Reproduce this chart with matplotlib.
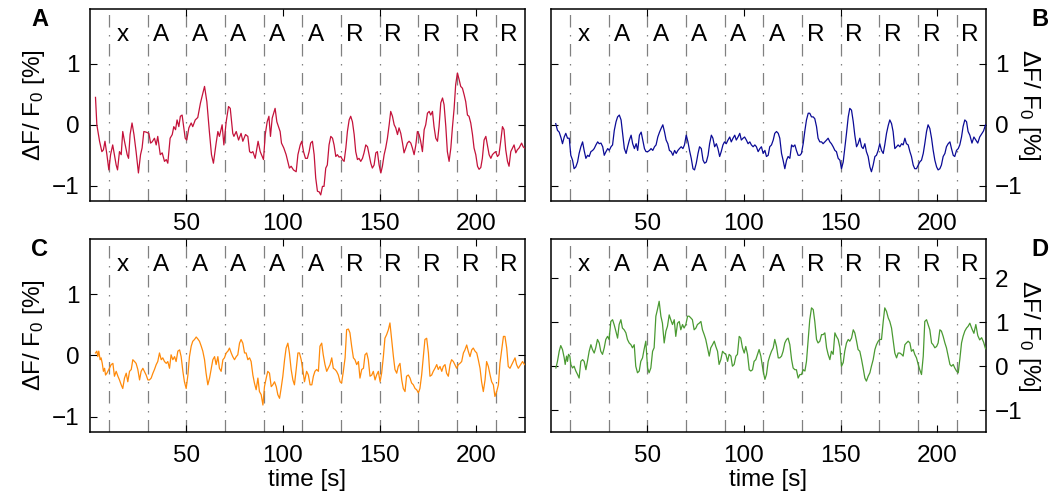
import matplotlib
matplotlib.use("Agg")
import matplotlib.pyplot as plt
import matplotlib.transforms as mtransforms

plt.rcParams['font.family'] = ['Liberation Sans', 'DejaVu Sans']
plt.rcParams['mathtext.default'] = 'regular'

# stimulus blocks (onset in s) and their labels
block_onsets = [10, 30, 50, 70, 90, 110, 130, 150, 170, 190, 210]
block_labels = ['x', 'A', 'A', 'A', 'A', 'A', 'R', 'R', 'R', 'R', 'R']
xticks = [50, 100, 150, 200]

# panel A trace
t_a = [3.1, 3.8, 5.2, 6.4, 7.2, 8.0, 9.0, 10.0, 10.9, 12.0, 12.9, 13.8, 14.5, 15.5, 16.4, 17.2,
       18.1, 19.5, 20.2, 21.0, 22.0, 23.0, 24.1, 25.3, 26.4, 27.2, 28.1, 29.3, 30.7, 31.6, 32.4,
       33.6, 34.5, 35.3, 36.6, 37.6, 38.8, 39.7, 40.5, 41.7, 42.8, 43.6, 44.5, 45.3, 46.2, 47.0,
       47.9, 49.5, 50.3, 51.4, 52.6, 53.4, 54.7, 56.0, 57.4, 59.5, 60.7, 62.0, 63.1, 64.1, 65.5,
       66.4, 67.2, 68.6, 69.5, 70.7, 71.9, 72.8, 74.1, 74.7, 75.9, 77.1, 78.4, 79.3, 80.7, 81.9,
       82.8, 83.6, 84.5, 85.7, 87.2, 88.3, 90.0, 90.9, 91.9, 92.8, 93.6, 94.5, 96.0, 96.9, 98.6,
       99.3, 100.5, 101.7, 103.4, 104.3, 105.5, 106.9, 107.8, 109.0, 109.8, 110.7, 111.7, 112.7,
       113.6, 114.4, 115.3, 116.2, 117.0, 117.9, 118.8, 119.6, 120.5, 121.3, 122.2, 123.0, 123.9,
       124.8, 125.7, 126.5, 127.4, 128.2, 129.1, 130.0, 130.8, 131.7, 132.6, 133.4, 134.3, 135.1,
       136.0, 136.9, 137.7, 138.6, 139.4, 140.3, 141.2, 142.0, 142.9, 143.8, 144.6, 145.5, 146.3,
       147.2, 148.1, 148.9, 149.8, 150.7, 151.5, 152.4, 153.2, 154.1, 155.0, 155.8, 156.7, 157.6,
       158.4, 159.3, 160.1, 161.0, 161.9, 162.7, 163.6, 164.4, 165.3, 166.2, 167.0, 167.9, 168.8,
       169.6, 170.5, 171.3, 172.2, 173.1, 173.9, 174.8, 175.7, 176.5, 177.4, 178.2, 179.1, 180.0,
       180.8, 181.7, 182.6, 183.4, 184.3, 185.1, 186.0, 186.9, 187.7, 188.6, 189.4, 190.3, 191.2,
       192.0, 192.9, 193.8, 194.6, 195.5, 196.3, 197.2, 198.1, 198.9, 199.8, 200.7, 201.5, 202.4,
       203.2, 204.1, 205.0, 205.8, 206.7, 207.6, 208.4, 209.3, 210.1, 211.0, 211.8, 212.7, 213.6,
       214.4, 215.3, 216.2, 217.0, 217.9, 218.8, 219.6, 220.5, 221.3, 222.2, 223.5, 224.3, 225.0]
dff_a = [0.45, 0.0, -0.27, -0.44, -0.41, -0.27, -0.49, -0.74, -0.49, -0.33, -0.49, -0.66, -0.74,
         -0.44, -0.49, -0.11, -0.27, -0.49, -0.55, -0.16, 0.03, -0.16, -0.44, -0.79, -0.49, -0.38,
         -0.11, -0.12, -0.14, -0.30, -0.28, -0.22, -0.33, -0.19, -0.49, -0.46, -0.60, -0.57, -0.63,
         -0.22, -0.16, -0.03, -0.08, 0.08, -0.03, 0.14, 0.16, -0.22, -0.25, -0.05, 0.03, -0.03, 0.08,
         0.12, 0.36, 0.63, 0.38, -0.11, -0.49, -0.63, -0.30, -0.11, -0.19, 0.0, -0.33, 0.05, 0.30,
         0.27, -0.14, -0.19, -0.11, -0.25, -0.14, -0.27, -0.16, -0.19, -0.44, -0.46, -0.44, -0.55,
         -0.27, -0.44, -0.57, -0.16, 0.05, 0.14, -0.19, 0.11, 0.27, 0.05, -0.11, -0.30, -0.38, -0.49,
         -0.71, -0.68, -0.74, -0.77, -0.49, -0.33, -0.27, -0.44, -0.55, -0.55, -0.44, -0.30, -0.27,
         -0.49, -0.87, -1.09, -1.10, -1.15, -1.01, -1.01, -0.71, -0.66, -0.33, -0.19, -0.22, -0.33,
         -0.52, -0.49, -0.53, -0.52, -0.57, -0.60, -0.38, -0.11, 0.08, 0.14, 0.05, -0.16, -0.44,
         -0.57, -0.55, -0.60, -0.55, -0.46, -0.33, -0.36, -0.49, -0.63, -0.71, -0.66, -0.46, -0.44,
         -0.66, -0.79, -0.68, -0.49, -0.38, -0.22, 0.0, 0.22, 0.14, 0.0, -0.05, -0.16, -0.05, -0.14,
         -0.30, -0.46, -0.38, -0.30, -0.27, -0.30, -0.38, -0.49, -0.33, -0.11, -0.16, -0.27, -0.44,
         -0.08, 0.0, 0.19, 0.22, 0.16, 0.22, -0.03, -0.22, -0.27, -0.03, 0.36, 0.44, 0.33, -0.03,
         -0.44, -0.60, -0.38, -0.05, 0.27, 0.66, 0.85, 0.74, 0.63, 0.60, 0.49, 0.38, 0.16, 0.14, 0.03,
         -0.16, -0.38, -0.49, -0.68, -0.73, -0.70, -0.55, -0.25, -0.19, -0.33, -0.49, -0.55, -0.49,
         -0.46, -0.44, -0.52, -0.49, -0.27, -0.03, -0.08, -0.41, -0.60, -0.68, -0.44, -0.38, -0.33,
         -0.46, -0.41, -0.38, -0.30, -0.36, -0.38]

# panel B trace
t_b = [2.7, 3.6, 4.5, 5.5, 6.2, 7.1, 7.9, 8.8, 9.7, 10.5, 11.4, 12.2, 13.1, 14.0, 14.8, 15.7, 16.6,
       17.4, 18.3, 19.2, 20.0, 20.9, 21.8, 22.6, 23.5, 24.4, 25.2, 26.1, 27.0, 27.8, 28.7, 29.6,
       30.4, 31.3, 32.1, 33.0, 33.9, 34.7, 35.6, 36.5, 37.3, 38.2, 39.1, 39.9, 40.8, 41.7, 42.5,
       43.4, 44.3, 45.1, 46.0, 46.9, 47.7, 48.6, 49.4, 50.3, 51.2, 52.0, 52.9, 53.8, 54.6, 55.5,
       56.4, 57.2, 58.1, 59.0, 59.8, 60.7, 61.5, 62.4, 63.3, 64.2, 65.0, 65.9, 66.7, 67.6, 68.5,
       69.3, 70.2, 71.1, 71.9, 72.8, 73.7, 74.5, 75.4, 76.3, 77.1, 78.0, 78.9, 79.7, 80.6, 81.5,
       82.3, 83.2, 84.0, 84.9, 85.8, 86.6, 87.5, 88.3, 89.2, 90.0, 90.9, 91.8, 92.7, 93.5, 94.4,
       95.3, 96.1, 97.0, 97.9, 98.7, 99.6, 100.4, 101.3, 102.2, 103.1, 103.9, 104.8, 105.7, 106.5,
       107.4, 108.3, 109.1, 110.0, 110.9, 111.7, 112.6, 113.4, 114.3, 115.2, 116.0, 116.9, 117.8,
       118.6, 119.5, 120.3, 121.2, 122.1, 122.9, 123.8, 124.7, 125.5, 126.4, 127.2, 128.1, 129.0,
       129.8, 130.7, 131.6, 132.4, 133.3, 134.1, 135.0, 135.9, 136.7, 137.6, 138.4, 139.3, 140.2,
       141.0, 141.9, 142.8, 143.6, 144.5, 145.3, 146.2, 147.1, 147.9, 148.8, 149.7, 150.5, 151.4,
       152.2, 153.1, 154.0, 154.8, 155.7, 156.6, 157.4, 158.3, 159.1, 160.0, 160.9, 161.7, 162.6,
       163.4, 164.3, 165.2, 166.0, 166.9, 167.8, 168.6, 169.5, 170.3, 171.2, 172.1, 172.9, 173.8,
       174.7, 175.5, 176.4, 177.2, 178.1, 179.0, 179.8, 180.7, 181.6, 182.4, 183.3, 184.1, 185.0,
       185.9, 186.7, 187.6, 188.4, 189.3, 190.2, 191.0, 191.9, 192.8, 193.6, 194.5, 195.3, 196.2,
       197.1, 197.9, 198.8, 199.7, 200.5, 201.4, 202.2, 203.1, 204.0, 204.8, 205.7, 206.6, 207.4,
       208.3, 209.1, 210.0, 210.9, 211.7, 212.6, 213.4, 214.3, 215.2, 216.0, 216.9, 218.0, 219.0,
       220.0, 221.0, 222.0, 223.0, 224.0, 225.0]
dff_b = [0.02, -0.09, -0.12, -0.22, -0.31, -0.20, -0.14, -0.22, -0.22, -0.50, -0.58, -0.72, -0.69,
         -0.61, -0.47, -0.36, -0.28, -0.42, -0.55, -0.50, -0.52, -0.44, -0.42, -0.39, -0.33, -0.28,
         -0.31, -0.30, -0.36, -0.50, -0.44, -0.39, -0.42, -0.36, -0.33, -0.09, 0.05, 0.13, 0.16,
         0.08, -0.14, -0.39, -0.47, -0.36, -0.25, -0.17, -0.31, -0.39, -0.31, -0.42, -0.17, -0.12,
         -0.25, -0.39, -0.44, -0.44, -0.42, -0.39, -0.42, -0.36, -0.33, -0.20, -0.12, -0.06, 0.0,
         -0.12, -0.25, -0.31, -0.42, -0.44, -0.50, -0.42, -0.47, -0.42, -0.39, -0.36, -0.39, -0.33,
         -0.17, -0.28, -0.42, -0.55, -0.72, -0.74, -0.63, -0.47, -0.36, -0.39, -0.58, -0.63, -0.61,
         -0.50, -0.31, -0.17, -0.22, -0.36, -0.31, -0.39, -0.52, -0.44, -0.33, -0.28, -0.31, -0.25,
         -0.20, -0.28, -0.22, -0.17, -0.25, -0.20, -0.14, -0.25, -0.22, -0.20, -0.25, -0.31, -0.28,
         -0.33, -0.36, -0.33, -0.36, -0.44, -0.39, -0.36, -0.47, -0.42, -0.52, -0.50, -0.36, -0.33,
         -0.25, -0.14, -0.11, -0.14, -0.22, -0.47, -0.58, -0.72, -0.58, -0.52, -0.55, -0.33, -0.36,
         -0.33, -0.42, -0.50, -0.50, -0.47, -0.31, -0.09, 0.08, 0.19, 0.19, 0.13, 0.13, 0.10, -0.03,
         -0.22, -0.28, -0.28, -0.31, -0.28, -0.25, -0.22, -0.28, -0.31, -0.36, -0.42, -0.44, -0.55,
         -0.58, -0.72, -0.61, -0.39, -0.14, 0.13, 0.27, 0.24, 0.05, -0.17, -0.36, -0.31, -0.22,
         -0.36, -0.39, -0.31, -0.44, -0.52, -0.69, -0.77, -0.66, -0.52, -0.50, -0.42, -0.31, -0.42,
         -0.47, -0.33, -0.14, -0.01, 0.08, 0.02, -0.11, -0.39, -0.36, -0.33, -0.36, -0.31, -0.33,
         -0.22, -0.31, -0.33, -0.44, -0.52, -0.66, -0.72, -0.72, -0.66, -0.61, -0.58, -0.47, -0.31,
         -0.11, 0.0, -0.06, -0.22, -0.41, -0.58, -0.69, -0.74, -0.72, -0.66, -0.52, -0.47, -0.36,
         -0.31, -0.28, -0.39, -0.50, -0.52, -0.42, -0.39, -0.33, -0.20, -0.03, 0.08, 0.05, -0.11,
         -0.17, -0.30, -0.20, -0.25, -0.30, -0.20, -0.15, -0.10, 0.0]

# panel C trace
t_c = [3.1, 3.8, 4.3, 4.8, 5.5, 6.0, 6.6, 7.2, 7.8, 8.3, 9.0, 9.5, 10.3, 11.2, 12.1, 12.9, 13.8,
       14.7, 15.5, 16.4, 17.2, 18.1, 19.0, 19.8, 20.7, 21.6, 22.4, 23.3, 24.1, 25.0, 25.9, 26.7,
       27.6, 28.4, 29.3, 30.2, 31.0, 31.9, 32.8, 33.6, 34.5, 35.3, 36.2, 37.1, 37.9, 38.8, 39.7,
       40.5, 41.4, 42.2, 43.1, 44.0, 44.8, 45.7, 46.6, 47.4, 48.3, 49.1, 50.0, 50.9, 51.7, 52.6,
       53.4, 54.3, 55.2, 56.0, 56.9, 57.8, 58.6, 59.5, 60.3, 61.2, 62.1, 62.9, 63.8, 64.7, 65.5,
       66.4, 67.2, 68.1, 69.0, 69.8, 70.7, 71.6, 72.4, 73.3, 74.1, 75.0, 75.9, 76.7, 77.6, 78.4,
       79.3, 80.2, 81.0, 81.9, 82.8, 83.6, 84.5, 85.3, 86.2, 87.1, 87.9, 88.8, 89.7, 90.5, 91.4,
       92.2, 93.1, 94.0, 94.8, 95.7, 96.6, 97.4, 98.3, 99.1, 100.0, 100.9, 101.7, 102.6, 103.4,
       104.3, 105.2, 106.0, 106.9, 107.8, 108.6, 109.5, 110.3, 111.2, 112.3, 113.2, 114.1, 115.0,
       115.8, 116.6, 117.5, 118.4, 119.2, 120.1, 120.9, 121.8, 122.7, 123.5, 124.4, 125.3, 126.1,
       127.0, 127.8, 128.7, 129.6, 130.4, 131.3, 132.2, 133.0, 133.9, 134.7, 135.6, 136.5, 137.3,
       138.2, 139.1, 139.9, 140.8, 141.7, 142.5, 143.4, 144.2, 145.1, 146.0, 146.8, 147.7, 148.5,
       149.4, 150.3, 151.1, 152.0, 152.8, 153.7, 154.6, 155.4, 156.3, 157.2, 158.0, 158.9, 159.7,
       160.6, 161.5, 162.3, 163.2, 164.0, 164.9, 165.8, 166.6, 167.5, 168.4, 169.2, 170.1, 170.9,
       171.8, 172.7, 173.5, 174.4, 175.3, 176.1, 177.0, 177.8, 178.7, 179.6, 180.4, 181.3, 182.2,
       183.0, 183.9, 184.7, 185.6, 186.5, 187.3, 188.2, 189.0, 189.9, 190.8, 191.6, 192.5, 193.4,
       194.2, 195.1, 195.9, 196.8, 197.7, 198.5, 199.4, 200.3, 201.1, 202.0, 202.8, 203.7, 204.6,
       205.4, 206.3, 207.2, 208.0, 208.9, 209.7, 210.6, 211.5, 212.3, 213.2, 214.1, 214.9, 215.8,
       216.6, 217.5, 218.4, 219.2, 220.1, 220.9, 221.8, 223.0, 224.0, 225.0]
dff_c = [0.04, 0.07, -0.02, 0.07, -0.07, -0.04, -0.13, -0.26, -0.21, -0.32, -0.29, -0.26, -0.21,
         -0.15, -0.13, -0.34, -0.26, -0.34, -0.40, -0.48, -0.54, -0.37, -0.29, -0.43, -0.26, -0.23,
         -0.07, -0.10, -0.13, -0.23, -0.40, -0.26, -0.21, -0.26, -0.32, -0.40, -0.40, -0.37, -0.29,
         -0.23, -0.15, -0.10, 0.04, -0.07, -0.04, -0.10, -0.13, -0.10, -0.21, 0.01, -0.07, -0.02,
         -0.10, 0.07, 0.09, -0.02, -0.26, -0.43, -0.54, -0.32, -0.02, 0.15, 0.23, 0.26, 0.30, 0.27,
         0.23, 0.15, 0.07, -0.07, -0.29, -0.48, -0.37, -0.23, -0.07, -0.02, -0.15, -0.02, -0.21,
         -0.26, -0.07, -0.04, 0.04, 0.07, 0.12, 0.04, -0.02, -0.07, -0.02, 0.01, 0.20, 0.26, 0.20,
         0.04, 0.04, -0.07, -0.04, -0.10, -0.32, -0.45, -0.56, -0.37, -0.59, -0.64, -0.81, -0.51,
         -0.37, -0.26, -0.29, -0.51, -0.48, -0.43, -0.51, -0.64, -0.70, -0.54, -0.34, -0.07, 0.12,
         0.20, 0.04, -0.23, -0.40, -0.48, -0.23, 0.04, 0.04, -0.07, -0.23, -0.43, -0.26, -0.32,
         -0.48, -0.48, -0.34, -0.26, -0.23, -0.26, 0.15, 0.20, 0.01, -0.15, -0.26, -0.21, -0.15,
         -0.04, -0.21, -0.23, -0.26, -0.32, -0.43, -0.45, -0.26, -0.04, 0.42, 0.43, 0.37, 0.15,
         -0.04, -0.07, -0.15, -0.10, -0.37, -0.23, -0.21, 0.01, 0.04, -0.07, -0.34, -0.32, -0.26,
         -0.40, -0.32, -0.26, -0.43, -0.29, -0.02, 0.28, 0.34, 0.42, 0.53, 0.26, -0.02, -0.23, -0.29,
         -0.18, -0.13, -0.40, -0.54, -0.59, -0.34, -0.32, -0.37, -0.45, -0.48, -0.54, -0.56, -0.61,
         -0.54, -0.32, -0.02, 0.26, 0.28, 0.04, -0.34, -0.32, -0.26, -0.21, -0.15, -0.23, -0.18,
         -0.26, -0.18, -0.15, -0.29, -0.34, -0.15, -0.07, -0.10, -0.15, -0.21, -0.15, -0.13, -0.10,
         0.04, 0.09, 0.17, 0.07, -0.02, 0.09, 0.12, 0.07, 0.04, -0.07, -0.21, -0.43, -0.59, -0.40,
         -0.10, -0.18, -0.32, -0.43, -0.48, -0.67, -0.59, -0.48, -0.13, 0.09, 0.31, 0.31, 0.12,
         -0.18, -0.21, -0.15, -0.10, -0.04, -0.15, -0.21, -0.15, -0.10, -0.15]

# panel D trace
t_d = [2.8, 3.6, 4.5, 5.3, 6.2, 7.1, 7.6, 8.3, 8.8, 9.3, 10.0, 10.5, 11.4, 12.2, 13.1, 14.0, 14.8,
       15.7, 16.6, 17.4, 18.3, 19.1, 20.0, 20.9, 21.7, 22.6, 23.4, 24.3, 25.2, 26.0, 26.9, 27.8,
       28.6, 29.5, 30.3, 31.2, 32.1, 32.9, 33.8, 34.7, 35.5, 36.4, 37.2, 38.1, 39.0, 39.8, 40.7,
       41.6, 42.4, 43.3, 44.1, 45.0, 45.9, 46.7, 47.6, 48.4, 49.3, 50.2, 51.0, 51.9, 52.8, 53.6,
       54.5, 55.3, 56.2, 57.1, 57.9, 58.8, 59.7, 60.5, 61.4, 62.2, 63.1, 64.0, 64.8, 65.7, 66.6,
       67.4, 68.3, 69.1, 70.0, 70.9, 71.7, 72.6, 73.4, 74.3, 75.2, 76.0, 76.9, 77.8, 78.6, 79.5,
       80.3, 81.2, 82.1, 82.9, 83.8, 84.7, 85.5, 86.4, 87.2, 88.1, 89.0, 89.8, 90.7, 91.6, 92.4,
       93.3, 94.1, 95.0, 95.9, 96.7, 97.6, 98.4, 99.3, 100.2, 101.0, 101.9, 102.8, 103.6, 104.5,
       105.3, 106.2, 107.1, 107.9, 108.8, 110.0, 110.9, 111.7, 112.6, 113.4, 114.3, 115.2, 116.0,
       116.9, 117.8, 118.6, 119.5, 120.3, 121.2, 122.1, 122.9, 123.8, 124.7, 125.5, 126.4, 127.2,
       128.1, 129.0, 129.8, 130.7, 131.6, 132.4, 133.3, 134.1, 135.0, 135.9, 136.7, 137.6, 138.4,
       139.3, 140.2, 141.0, 141.9, 142.8, 143.6, 144.5, 145.3, 146.2, 147.1, 147.9, 148.8, 149.7,
       150.5, 151.4, 152.2, 153.1, 154.0, 154.8, 155.7, 156.6, 157.4, 158.3, 159.1, 160.0, 160.9,
       161.7, 162.6, 163.4, 164.3, 165.2, 166.0, 166.9, 167.8, 168.6, 169.5, 170.3, 171.2, 172.1,
       172.9, 173.8, 174.7, 175.5, 176.4, 177.2, 178.1, 179.0, 179.8, 180.7, 181.6, 182.4, 183.3,
       184.1, 185.0, 185.9, 186.7, 187.6, 188.4, 189.3, 190.2, 191.0, 191.9, 192.8, 193.6, 194.5,
       195.3, 196.2, 197.1, 197.9, 198.8, 199.7, 200.5, 201.4, 202.2, 203.1, 204.0, 204.8, 205.7,
       206.6, 207.4, 208.3, 209.1, 210.0, 210.9, 211.7, 212.6, 213.4, 214.3, 215.2, 216.0, 216.9,
       218.0, 219.0, 220.0, 221.0, 222.0, 223.0, 224.0, 225.0]
dff_d = [-0.04, 0.11, 0.34, 0.47, 0.38, 0.19, 0.04, 0.23, 0.11, 0.27, 0.23, 0.04, -0.04, 0.0, -0.11,
         -0.19, -0.27, 0.11, 0.15, 0.11, -0.08, 0.11, 0.34, 0.49, 0.38, 0.30, 0.42, 0.61, 0.53, 0.34,
         0.27, 0.42, 0.61, 0.68, 0.61, 1.02, 1.06, 0.95, 0.80, 0.64, 0.95, 1.06, 0.87, 0.83, 0.76,
         0.61, 0.53, 0.49, 0.42, 0.49, 0.0, -0.15, -0.11, 0.11, 0.19, 0.38, 0.57, -0.04, -0.15, -0.04,
         0.34, 0.42, 1.14, 1.29, 1.48, 1.14, 0.98, 0.53, 0.80, 0.91, 1.17, 1.06, 0.95, 1.06, 0.68,
         0.98, 1.02, 0.83, 0.95, 0.87, 0.95, 1.14, 1.14, 1.10, 1.06, 0.83, 0.87, 0.95, 0.98, 1.02,
         0.83, 0.72, 0.61, 0.42, 0.23, 0.42, 0.49, 0.57, 0.45, 0.34, 0.04, 0.15, 0.34, 0.30, 0.27,
         0.11, 0.27, 0.23, 0.0, 0.04, 0.23, 0.27, 0.68, 0.64, 0.42, 0.30, 0.45, 0.27, -0.08, -0.11,
         -0.08, 0.11, 0.15, 0.27, 0.38, 0.23, -0.11, -0.30, -0.19, 0.11, 0.23, 0.34, 0.42, 0.61,
         0.45, 0.19, 0.19, 0.23, 0.34, 0.53, 0.61, 0.64, 0.49, 0.15, -0.04, -0.08, -0.08, -0.27,
         -0.19, -0.19, -0.08, -0.11, 0.11, 0.61, 1.06, 1.33, 1.29, 1.02, 0.61, 0.53, 0.57, 0.72,
         0.72, 0.76, 0.42, 0.27, 0.15, 0.34, 0.27, 0.76, 0.68, 0.61, 0.42, 0.0, 0.08, 0.34, 0.53,
         0.61, 0.57, 0.64, 0.83, 0.76, 0.57, 0.38, 0.34, 0.15, -0.04, -0.27, -0.34, -0.23, -0.15,
         0.0, 0.15, 0.38, 0.49, 0.57, 0.61, 0.61, 1.02, 1.33, 1.25, 1.10, 1.02, 0.87, 0.61, 0.30,
         0.19, 0.30, 0.30, 0.27, 0.23, 0.49, 0.53, 0.57, 0.53, 0.34, 0.38, 0.27, 0.19, 0.04, -0.08,
         -0.19, 0.23, 1.02, 1.06, 0.95, 0.83, 0.53, 0.49, 0.42, 0.45, 0.53, 0.83, 0.80, 0.68, 0.53,
         0.42, 0.23, 0.04, 0.0, 0.04, -0.04, -0.11, -0.15, 0.15, 0.53, 0.68, 0.80, 0.87, 0.91, 0.98,
         0.85, 0.75, 0.95, 0.70, 0.60, 0.65, 0.55, 0.40]

W, H = 1062, 497
fig = plt.figure(figsize=(W / 100, H / 100), dpi=100)

def px_axes(left, top, right, bottom):
    return fig.add_axes([left / W, 1 - bottom / H, (right - left) / W, (bottom - top) / H])

panels = [
    ('A', t_a, dff_a, '#c4123a', (89.5, 9, 524.5, 201), (-1.25, 1.9), [-1, 0, 1], 'left', False),
    ('B', t_b, dff_b, '#0b0b96', (550.5, 9, 985.5, 201), (-1.25, 1.9), [-1, 0, 1], 'right', False),
    ('C', t_c, dff_c, '#ff8a0a', (89.5, 239, 524.5, 432), (-1.25, 1.9), [-1, 0, 1], 'left', True),
    ('D', t_d, dff_d, '#4a9a32', (550.5, 239, 985.5, 432), (-1.5, 2.9), [-1, 0, 1, 2], 'right', True),
]

ylab = 'ΔF/ F$_0$ [%]'
fs = 17.5

for letter, t, dff, color, box, ylim, yticks, side, bottom_row in panels:
    ax = px_axes(*box)
    for x0 in block_onsets:
        ax.axvline(x0, color='0.5', lw=0.9, ls=(0, (10, 6, 1.2, 6)), zorder=1)
    ax.plot(t, dff, color=color, lw=0.9, zorder=3)
    ax.set_xlim(0, 225)
    ax.set_ylim(*ylim)
    ax.set_xticks(xticks)
    ax.set_yticks(yticks)
    ax.set_yticklabels(['\u2212%d' % -v if v < 0 else '%d' % v for v in yticks])
    ax.tick_params(direction='in', length=5, width=0.8, top=True, right=True, left=True,
                   labelsize=fs, pad=7)
    ax.tick_params(axis='x', pad=9)
    for sp in ax.spines.values():
        sp.set_linewidth(1.1)
    if side == 'right':
        ax.yaxis.tick_right()
        ax.tick_params(left=True, right=True, labelleft=False, labelright=True)
        ax.yaxis.set_label_position('right')
        ax.set_ylabel(ylab, fontsize=fs, rotation=270, labelpad=14)
        fig.text(1040 / W, 1 - (box[1] + 11) / H, letter, fontsize=17, fontweight='bold',
                 ha='center', va='center')
    else:
        ax.set_ylabel(ylab, fontsize=fs, labelpad=4)
        fig.text(40 / W, 1 - (box[1] + 11) / H, letter, fontsize=17, fontweight='bold',
                 ha='center', va='center')
    if bottom_row:
        ax.set_xlabel('time [s]', fontsize=fs, labelpad=2)

    trans = mtransforms.blended_transform_factory(ax.transData, ax.transAxes)
    for x0, lab in zip(block_onsets, block_labels):
        ax.text(x0 + 7, 0.865, lab, transform=trans, fontsize=fs, ha='center', va='center',
                zorder=4)

fig.savefig('out.png', dpi=100)
